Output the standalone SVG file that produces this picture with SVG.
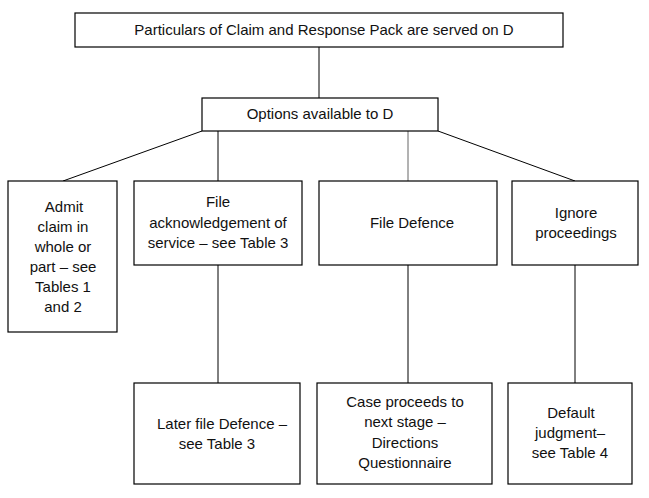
<svg xmlns="http://www.w3.org/2000/svg" width="649" height="498" viewBox="0 0 649 498">
<style>
.box{fill:#fff;stroke:#000;stroke-width:1.2}
.ln{stroke:#000;stroke-width:1;fill:none}
text{font-family:"Liberation Sans",Arial,sans-serif;font-size:15px;fill:#111;text-anchor:middle}
</style>
<rect width="649" height="498" fill="#fff"/>
<g id="connectors">
<line class="ln" x1="319" y1="47" x2="319" y2="98"/>
<line class="ln" x1="202" y1="131" x2="63" y2="181"/>
<line class="ln" x1="218" y1="131" x2="218" y2="181"/>
<line class="ln" x1="408" y1="131" x2="408" y2="181" style="stroke:#666"/>
<line class="ln" x1="438" y1="131" x2="575" y2="181"/>
<line class="ln" x1="218" y1="265" x2="218" y2="383"/>
<line class="ln" x1="408" y1="265" x2="408" y2="383"/>
<line class="ln" x1="575" y1="265" x2="575" y2="383"/>
</g>
<g id="n-top"><rect class="box" x="75" y="13" width="488" height="34"/><text x="324" y="35">Particulars of Claim and Response Pack are served on D</text></g>
<g id="n-options"><rect class="box" x="202" y="98" width="236" height="33"/><text x="320" y="119">Options available to D</text></g>
<g id="n-admit"><rect class="box" x="8" y="181" width="109" height="151"/>
<text x="64" y="212">Admit</text><text x="63" y="232">claim in</text><text x="63" y="252">whole or</text><text x="63" y="272">part – see</text><text x="63" y="292">Tables 1</text><text x="63" y="312">and 2</text></g>
<g id="n-ack"><rect class="box" x="134" y="181" width="168" height="84"/>
<text x="218" y="207">File</text><text x="218" y="228">acknowledgement of</text><text x="218" y="248">service – see Table 3</text></g>
<g id="n-defence"><rect class="box" x="319" y="181" width="178" height="84"/><text x="412" y="228">File Defence</text></g>
<g id="n-ignore"><rect class="box" x="512" y="181" width="126" height="84"/>
<text x="576" y="218">Ignore</text><text x="576" y="238">proceedings</text></g>
<g id="n-later"><rect class="box" x="134" y="383" width="166" height="101"/>
<text x="222" y="429">Later file Defence –</text><text x="217" y="449">see Table 3</text></g>
<g id="n-case"><rect class="box" x="317" y="383" width="175" height="101"/>
<text x="405" y="407">Case proceeds to</text><text x="405" y="427">next stage –</text><text x="405" y="448">Directions</text><text x="405" y="468">Questionnaire</text></g>
<g id="n-default"><rect class="box" x="508" y="383" width="124" height="101"/>
<text x="571" y="418">Default</text><text x="570" y="438">judgment–</text><text x="570" y="458">see Table 4</text></g>
</svg>
